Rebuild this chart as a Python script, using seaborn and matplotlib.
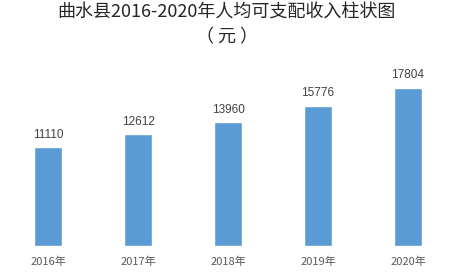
import matplotlib
matplotlib.use("Agg")
import matplotlib.pyplot as plt
import seaborn as sns
import pandas as pd

years = ["2016年", "2017年", "2018年", "2019年", "2020年"]
income = [11110, 12612, 13960, 15776, 17804]

sns.set_style("white")
plt.rcParams['font.family'] = ['Noto Sans CJK SC', 'DejaVu Sans']

df = pd.DataFrame({"year": years, "income": income})

fig = plt.figure(figsize=(4.53, 2.76), dpi=100)
ax = fig.add_axes([3/453, 30/276, 450/453, 178/276])
sns.barplot(data=df, x="year", y="income", color="#5B9BD5", width=0.31,
            saturation=1, ax=ax)
ax.set_xlim(-0.5, 4.5)
ax.set_ylim(0, 20000)
for p, v in zip(ax.patches, income):
    ax.text(p.get_x() + p.get_width() / 2, v + 700, str(v), ha="center",
            va="bottom", fontsize=8.5, color="#404040", family=['Liberation Sans'])
ax.set_xlabel("")
ax.set_ylabel("")
ax.set_yticks([])
ax.tick_params(axis="x", length=0, labelsize=8, colors="#595959", pad=8)
for s in ax.spines.values():
    s.set_visible(False)
fig.text(0.5, 1 - 13/276, "曲水县2016-2020年人均可支配收入柱状图", ha="center", va="center",
         fontsize=13, color="#262626")
fig.text(0.5, 1 - 37/276, "（ 元 ）", ha="center", va="center",
         fontsize=13, color="#262626")
fig.savefig("out.png", dpi=100)
